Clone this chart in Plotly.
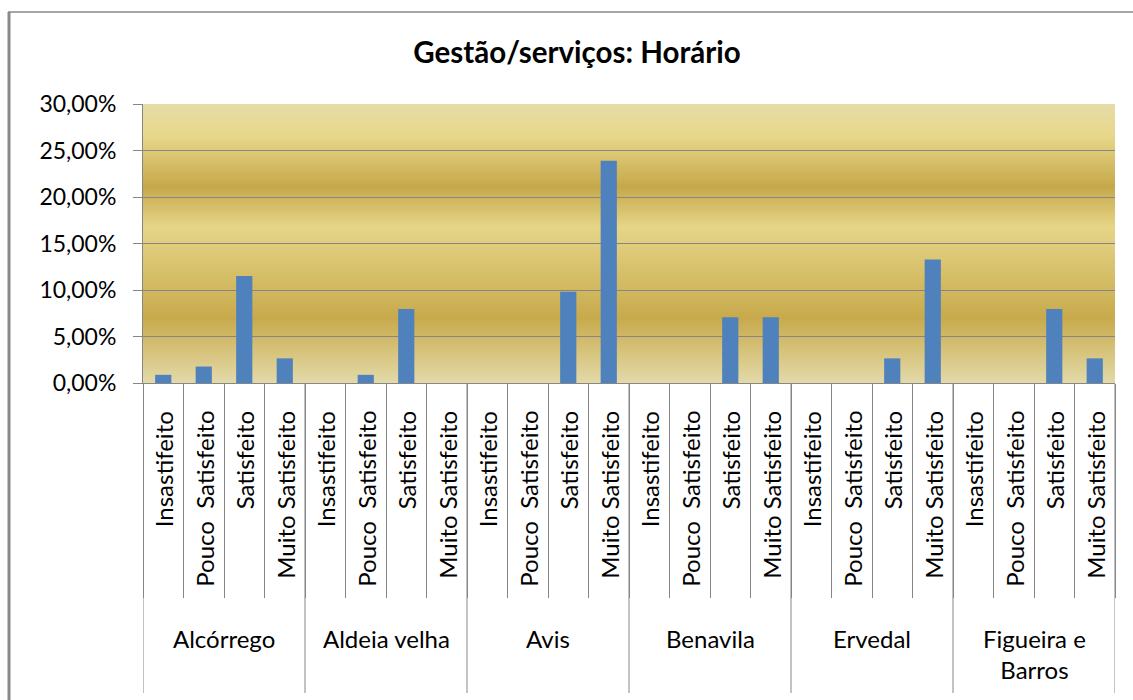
import plotly.graph_objects as go

# ---- data ----
groups = ["Alcórrego", "Aldeia velha", "Avis", "Benavila", "Ervedal", "Figueira e<br>Barros"]
levels = ["Insastifeito", "Pouco  Satisfeito", "Satisfeito", "Muito Satisfeito"]
values_alcorrego = [0.0088, 0.0177, 0.1150, 0.0265]
values_aldeia = [0.0, 0.0088, 0.0796, 0.0]
values_avis = [0.0, 0.0, 0.0982, 0.2389]
values_benavila = [0.0, 0.0, 0.0708, 0.0708]
values_ervedal = [0.0, 0.0, 0.0265, 0.1327]
values_figueira = [0.0, 0.0, 0.0796, 0.0265]
y_ticks = [0, 0.05, 0.10, 0.15, 0.20, 0.25, 0.30]
title_text = "Gestão/serviços: Horário"

all_values = [values_alcorrego, values_aldeia, values_avis, values_benavila, values_ervedal, values_figueira]

keys, vals, inner = [], [], []
for g, vs in zip(groups, all_values):
    for lv, v in zip(levels, vs):
        keys.append(g + " | " + lv)
        vals.append(v)
        inner.append(lv)

# ---- layout geometry (pixels) ----
W, H = 1133, 700
L, R, T, B = 143, 18, 104, 317
PW, PH = W - L - R, H - T - B


def px_x(px):
    return (px - L) / PW


def px_y(py):
    return (H - B - py) / PH


GRID = "#868686"

fig = go.Figure()
fig.add_trace(go.Bar(x=keys, y=vals, marker=dict(color="#4f81bd", line=dict(width=0)),
                     hoverinfo="x+y"))

shapes = []
# gradient background strips
stops = [(0.0, (0xe5, 0xdc, 0xa8)), (0.111, (0xe8, 0xd8, 0x8b)), (0.297, (0xc6, 0xa8, 0x4a)),
         (0.441, (0xe6, 0xd5, 0x88)), (0.767, (0xc8, 0xaa, 0x4c)), (1.0, (0xe3, 0xda, 0xa9))]


def col_at(t):
    for (t0, c0), (t1, c1) in zip(stops[:-1], stops[1:]):
        if t0 <= t <= t1:
            f = (t - t0) / (t1 - t0) if t1 > t0 else 0
            c = [round(a + (b - a) * f) for a, b in zip(c0, c1)]
            return "rgb(%d,%d,%d)" % tuple(c)
    return "rgb(%d,%d,%d)" % stops[-1][1]


N = PH
for i in range(N):
    t = (i + 0.5) / N  # from top
    shapes.append(dict(type="rect", xref="paper", yref="paper", x0=0, x1=1,
                       y0=1 - (i + 1.4) / N, y1=1 - i / N, fillcolor=col_at(t),
                       line=dict(width=0), layer="below"))

# group dividers (long)
for k in range(len(groups) + 1):
    xb = k * len(levels) - 0.5
    shapes.append(dict(type="line", xref="x", yref="paper", x0=xb, x1=xb,
                       y0=0, y1=px_y(693), line=dict(color=GRID, width=1)))

# outer chart border (left and top)
shapes.append(dict(type="line", xref="paper", yref="paper", x0=px_x(9), x1=px_x(9),
                   y0=px_y(12), y1=px_y(760), line=dict(color="#8a8a8a", width=3)))
shapes.append(dict(type="line", xref="paper", yref="paper", x0=px_x(8), x1=px_x(1200),
                   y0=px_y(12), y1=px_y(12), line=dict(color="#8a8a8a", width=1.5)))

annotations = []
FONT = "Lato, Carlito, Calibri, sans-serif"
for k, lab in zip(keys, inner):
    annotations.append(dict(x=k, xref="x", yref="paper", y=px_y(409), text=lab,
                            textangle=-90, showarrow=False, xanchor="center", yanchor="top",
                            font=dict(family=FONT, size=24, color="#000000")))
for gi, g in enumerate(groups):
    xc = gi * len(levels) + (len(levels) - 1) / 2
    annotations.append(dict(x=xc, xref="x", yref="paper", y=px_y(622), text=g,
                            showarrow=False, xanchor="center", yanchor="top",
                            font=dict(family=FONT, size=24, color="#000000")))

fig.update_layout(
    width=W, height=H,
    margin=dict(l=L, r=R, t=T, b=B, autoexpand=False),
    paper_bgcolor="white",
    plot_bgcolor="rgba(0,0,0,0)",
    separators=",.",
    showlegend=False,
    bargap=0.6,
    title=dict(text="<b>" + title_text + "</b>", x=577 / W, xanchor="center",
               y=1 - 53 / H, yanchor="middle",
               font=dict(family=FONT, size=29.5, color="#000000")),
    shapes=shapes,
    annotations=annotations,
    xaxis=dict(type="category", range=[-0.5, len(keys) - 0.5], showticklabels=False,
               ticks="outside", tickson="boundaries", ticklen=214, tickcolor=GRID, tickwidth=1,
               showline=True, linecolor=GRID, linewidth=1, showgrid=False, zeroline=False,
               fixedrange=True),
    yaxis=dict(range=[0, 0.30], tickvals=y_ticks, tickformat=".2%", showgrid=True,
               gridcolor=GRID, gridwidth=1, showline=True, linecolor=GRID, linewidth=1,
               ticks="outside", ticklen=9, tickcolor=GRID, zeroline=False,
               ticklabelstandoff=12,
               tickfont=dict(family=FONT, size=23, color="#000000"), fixedrange=True),
)

fig.write_html("out.html", config={"displayModeBar": False},
               post_script="document.body.style.margin='0';document.body.style.overflow='hidden';")
